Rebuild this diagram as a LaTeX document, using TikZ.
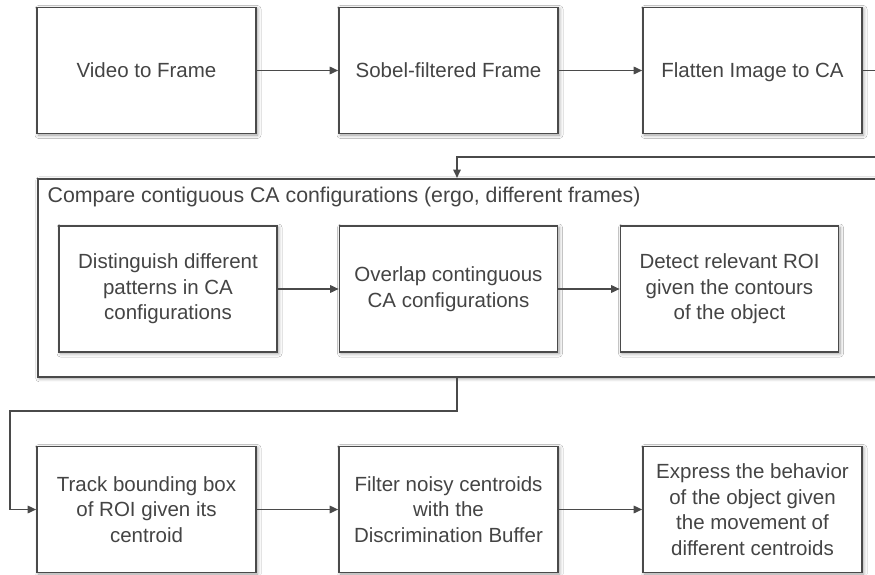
\documentclass[tikz,border=0pt]{standalone}
\usepackage{fontspec}
\setmainfont{Liberation Sans}
\usetikzlibrary{arrows.meta,shadows.blur}
\definecolor{ln}{HTML}{4A4A4A}
\definecolor{tx}{HTML}{444444}
\tikzset{
  box/.style={draw=ln, line width=1.6pt, fill=white, minimum width=219pt, minimum height=126pt,
    align=center, inner sep=0pt, text=tx, font=\fontsize{20.5}{25.5}\selectfont,
    blur shadow={shadow xshift=1.5pt, shadow yshift=-1.5pt, shadow blur steps=6, shadow opacity=40, shadow blur radius=3.5pt}},
  oneline/.style={text height=15pt, text depth=0pt},
  conn/.style={draw=ln, line width=1.6pt},
  arr/.style={conn, -{Triangle[length=8.5pt,width=7.5pt]}}
}
\begin{document}
\begin{tikzpicture}[x=1pt,y=-1pt]
\useasboundingbox (0,0) rectangle (875,575);
\clip (0,0) rectangle (875,575);
\fill[white] (0,0) rectangle (875,575);
% top row
\node[box, oneline] (a1) at (146.5,70.5) {Video to Frame};
\node[box, oneline] (a2) at (448.5,70.5) {Sobel-filtered Frame};
\node[box, oneline] (a3) at (752.5,70.5) {Flatten Image to CA};
\coordinate (e1) at (880,70.5);
\draw[arr] (a1) -- (a2);
\draw[arr] (a2) -- (a3);
\draw[conn] (a3) -- (e1);
% container
\node[box, minimum width=880pt, minimum height=198pt, anchor=north west] (c) at (37,178) {};
\node[anchor=west, text=tx, font=\fontsize{21.3}{25.5}\selectfont, inner sep=0pt] (cl) at (47.5,197) {Compare contiguous CA configurations (ergo, different frames)};
\coordinate (e2) at (880,157);
\coordinate (k1) at (457,157);
\draw[arr] (e2) -- (k1) -- (c.north west -| k1);
% inner row
\node[box, minimum width=218pt] (b1) at (168,289) {Distinguish different\\patterns in CA\\configurations};
\node[box, minimum width=218pt] (b2) at (448.5,289) {Overlap continguous\\CA configurations};
\node[box, minimum width=218pt] (b3) at (729.5,289) {Detect relevant ROI\\given the contours\\of the object};
\draw[arr] (b1) -- (b2);
\draw[arr] (b2) -- (b3);
% bottom row
\node[box] (d1) at (146.5,509.5) {Track bounding box\\of ROI given its\\centroid};
\node[box] (d2) at (448.5,509.5) {Filter noisy centroids\\with the\\Discrimination Buffer};
\node[box] (d3) at (752.5,509.5) {Express the behavior\\of the object given\\the movement of\\different centroids};
\coordinate (k2) at (457,411);
\coordinate (k3) at (10,411);
\draw[arr] (c.south west -| k2) -- (k2) -- (k3) |- (d1.west);
\draw[arr] (d1) -- (d2);
\draw[arr] (d2) -- (d3);
\end{tikzpicture}
\end{document}
